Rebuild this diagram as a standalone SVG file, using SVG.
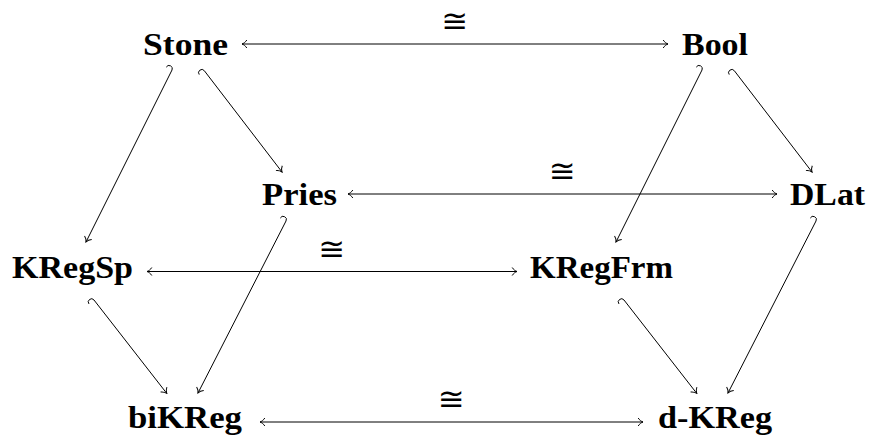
<svg xmlns="http://www.w3.org/2000/svg" width="869" height="439" viewBox="0 0 869 439">
<style>
.n{font-family:"Liberation Serif","DejaVu Serif",serif;font-weight:bold;font-size:32px;fill:#000}
.l{font-family:"DejaVu Serif","DejaVu Sans",serif;font-size:32px;fill:#000;text-anchor:middle}
.c{fill:none;stroke:#000;stroke-width:1}
</style>
<defs>
<marker id="ah" markerUnits="userSpaceOnUse" viewBox="-6 -5 7 10" markerWidth="7" markerHeight="10" refX="0" refY="0" orient="auto-start-reverse">
<path d="M-4.8,-4 C-3.6,-2 -1.6,-0.5 0,0 C-1.6,0.5 -3.6,2 -4.8,4" fill="none" stroke="#000" stroke-width="1"/>
</marker>
</defs>
<rect width="869" height="439" fill="#fff"/>
<g id="Stone"><text class="n" x="143" y="55" textLength="85" lengthAdjust="spacingAndGlyphs">Stone</text></g>
<g id="Bool"><text class="n" x="682" y="55" textLength="66" lengthAdjust="spacingAndGlyphs">Bool</text></g>
<g id="Pries"><text class="n" x="262" y="205" textLength="75" lengthAdjust="spacingAndGlyphs">Pries</text></g>
<g id="DLat"><text class="n" x="790" y="205" textLength="75" lengthAdjust="spacingAndGlyphs">DLat</text></g>
<g id="KRegSp"><text class="n" x="12" y="278" textLength="121" lengthAdjust="spacingAndGlyphs">KRegSp</text></g>
<g id="KRegFrm"><text class="n" x="530" y="278" textLength="143" lengthAdjust="spacingAndGlyphs">KRegFrm</text></g>
<g id="biKReg"><text class="n" x="128" y="428" textLength="114" lengthAdjust="spacingAndGlyphs">biKReg</text></g>
<g id="dKReg"><text class="n" x="658" y="428" textLength="114" lengthAdjust="spacingAndGlyphs">d-KReg</text></g>
<g id="connectors">
<path class="c" d="M242,44 H668" marker-start="url(#ah)" marker-end="url(#ah)"/>
<text class="l" x="455" y="32">≅</text>
<path class="c" d="M348,194 H777" marker-start="url(#ah)" marker-end="url(#ah)"/>
<text class="l" x="562.5" y="182">≅</text>
<path class="c" d="M147,271.5 H517" marker-start="url(#ah)" marker-end="url(#ah)"/>
<text class="l" x="332" y="259.5">≅</text>
<path class="c" d="M260,422 H643" marker-start="url(#ah)" marker-end="url(#ah)"/>
<text class="l" x="451.5" y="410">≅</text>
<path class="c" d="M166.28,67.14 A3.2,3.2 0 0 1 172,70 L86,242" marker-end="url(#ah)"/>
<path class="c" d="M199.22,74.59 A3.2,3.2 0 0 1 204.3,70.7 L282,172" marker-end="url(#ah)"/>
<path class="c" d="M696.28,67.14 A3.2,3.2 0 0 1 702,70 L616,242" marker-end="url(#ah)"/>
<path class="c" d="M729.22,74.59 A3.2,3.2 0 0 1 734.3,70.7 L812,172" marker-end="url(#ah)"/>
<path class="c" d="M280.3,218.08 A3.2,3.2 0 0 1 286,221 L198,393" marker-end="url(#ah)"/>
<path class="c" d="M810.3,218.08 A3.2,3.2 0 0 1 816,221 L728,393" marker-end="url(#ah)"/>
<path class="c" d="M88.95,303.93 A3.2,3.2 0 0 1 94,300 L166.7,393.3" marker-end="url(#ah)"/>
<path class="c" d="M618.95,303.93 A3.2,3.2 0 0 1 624,300 L696.7,393.3" marker-end="url(#ah)"/>
</g>
</svg>
